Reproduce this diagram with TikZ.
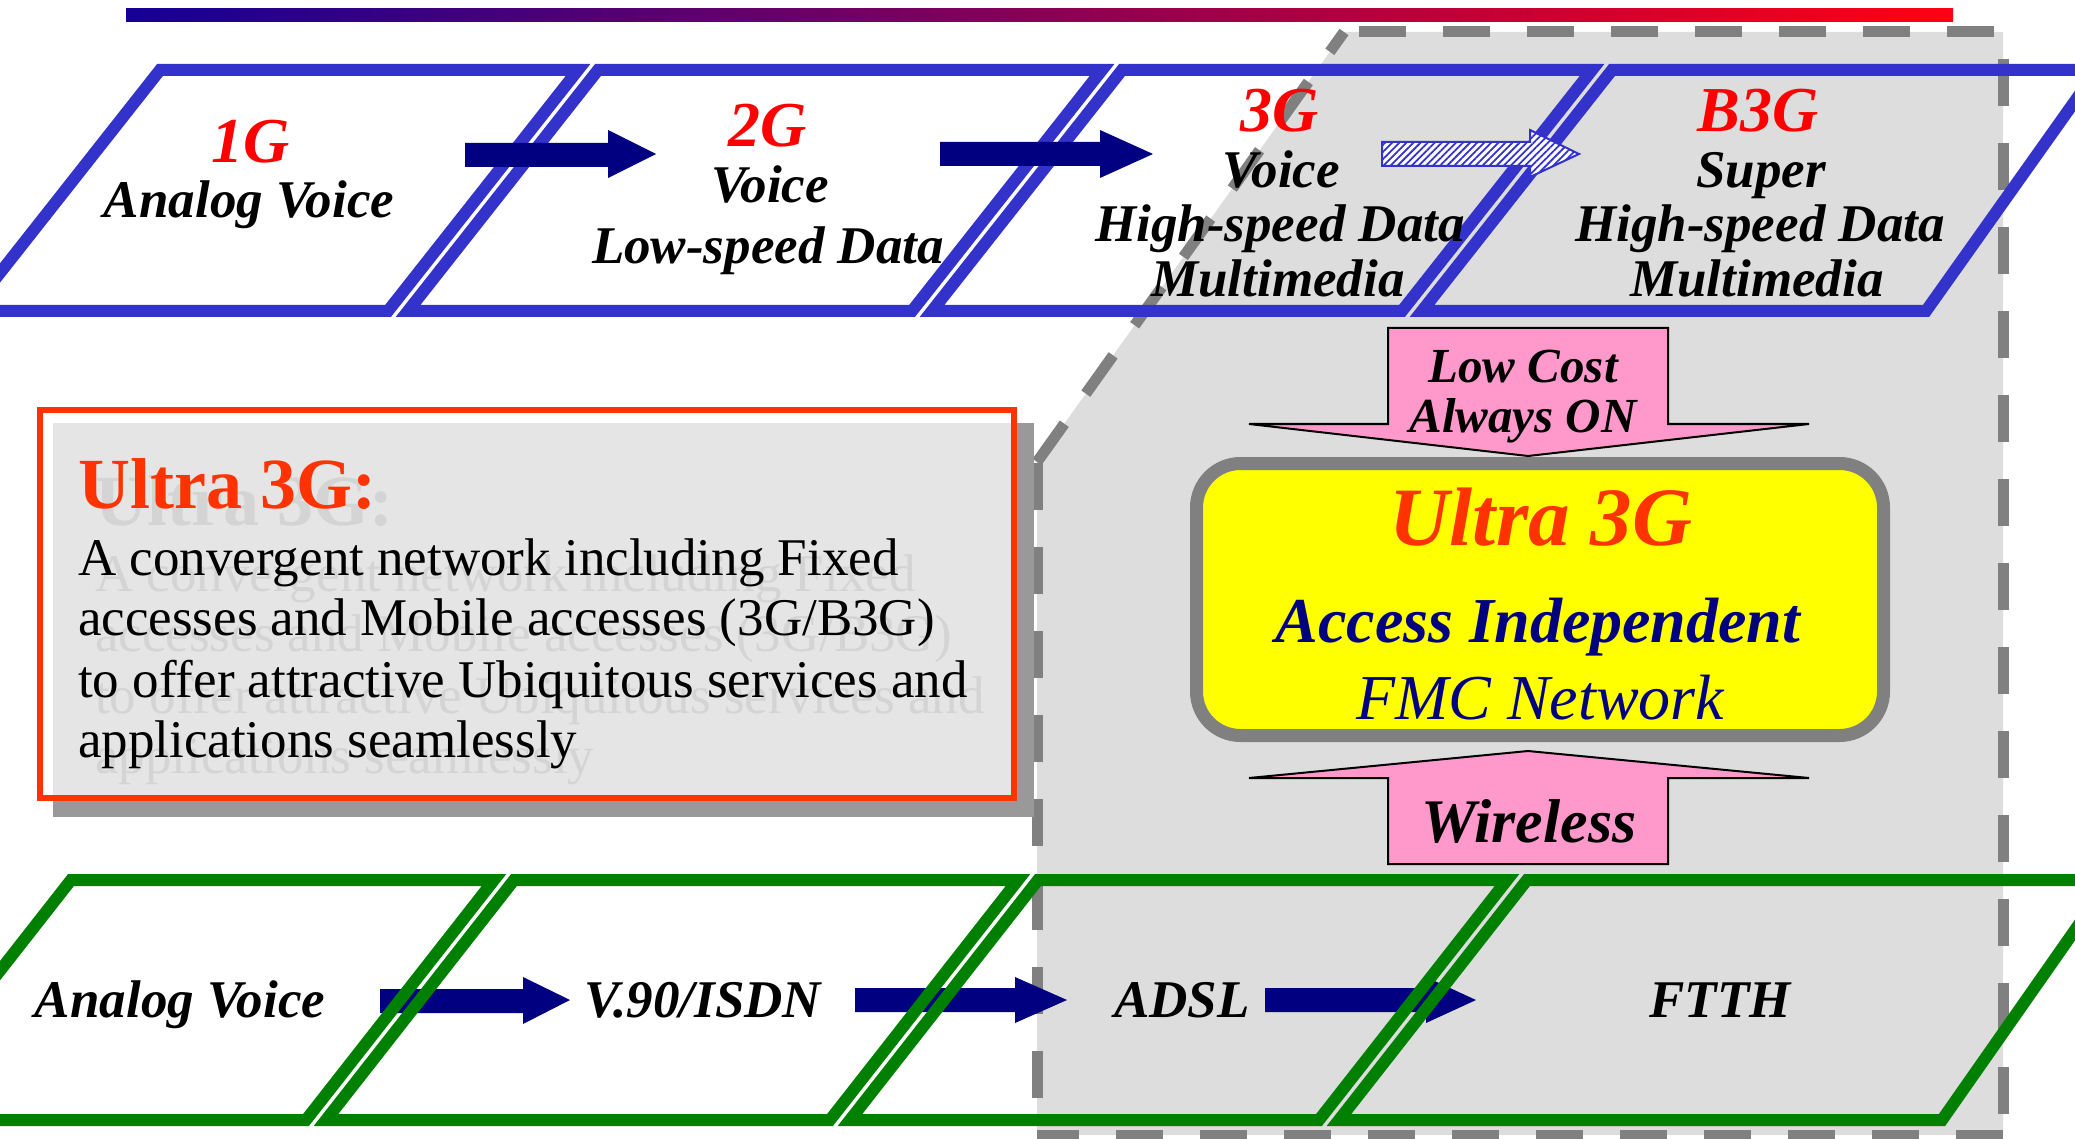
\documentclass[tikz,border=0pt]{standalone}
\usepackage{fontspec}
\setmainfont{Liberation Serif}
\usetikzlibrary{patterns.meta}
\definecolor{topblue}{RGB}{51,51,204}
\definecolor{navyc}{RGB}{0,0,128}
\definecolor{fmgreen}{RGB}{0,128,0}
\definecolor{dashgray}{RGB}{128,128,128}
\definecolor{regiongray}{RGB}{221,221,221}
\definecolor{boxgray}{RGB}{229,229,229}
\definecolor{shadowgray}{RGB}{153,153,153}
\definecolor{redorange}{RGB}{255,51,0}
\definecolor{gred}{RGB}{255,0,0}
\definecolor{pinkc}{RGB}{255,153,204}
\definecolor{yellowc}{RGB}{255,255,0}
\definecolor{ghostc}{RGB}{212,212,212}
\definecolor{gradL}{RGB}{20,0,150}
\definecolor{gradR}{RGB}{255,0,20}
\begin{document}
\begin{tikzpicture}[x=1pt,y=-1pt,line join=miter,
  blueframe/.style={draw=topblue,line width=12pt},
  greenframe/.style={draw=fmgreen,line width=12pt},
  navyarrow/.style={fill=navyc},
  gdash/.style={draw=dashgray,line width=11pt,dash pattern=on 47pt off 37pt},
  lbl/.style={anchor=base,inner sep=0pt,font=\fontsize{53}{60}\selectfont\bfseries\itshape},
  glbl/.style={anchor=base,inner sep=0pt,text=gred,font=\fontsize{64}{70}\selectfont\bfseries\itshape},
  bodytxt/.style={anchor=base west,inner sep=0pt,font=\fontsize{53}{60}\selectfont},
  titletxt/.style={anchor=base west,inner sep=0pt,font=\fontsize{72}{80}\selectfont\bfseries},
  pinkarrow/.style={draw=black,line width=2pt,fill=pinkc},
  pinktxt/.style={anchor=base,inner sep=0pt,font=\fontsize{49}{55}\selectfont\bfseries\itshape}
]
\useasboundingbox (0,0) rectangle (2075,1139);
\clip (0,0) rectangle (2075,1139);

% gradient bar
\shade[left color=gradL,right color=gradR] (126,9) rectangle (1953,22);

% gray dashed region
\fill[regiongray] (1344,32) -- (2003,32) -- (2003,1135) -- (1037,1135) -- (1037,462) -- cycle;
\draw[gdash,dash phase=69pt] (1344,32) -- (2003,32);
\draw[gdash,dash phase=57pt] (2003,32) -- (2003,1135);
\draw[gdash] (2003,1135) -- (1037,1135);
\draw[gdash,dash phase=47pt] (1037,1135) -- (1037,462);
\draw[gdash] (1037,462) -- (1344,32);

% left text box
\fill[shadowgray] (53,423) rectangle (1034,817);
\fill[boxgray] (53,423) rectangle (1017,801);
\node[titletxt,text=ghostc] (ttlg) at (95,525) {Ultra 3G:};
\node[bodytxt,text=ghostc] (b1g) at (95,591) {A convergent network including Fixed};
\node[bodytxt,text=ghostc] (b2g) at (95,651) {accesses and Mobile accesses (3G/B3G)};
\node[bodytxt,text=ghostc] (b3g) at (95,713) {to offer attractive Ubiquitous services and};
\node[bodytxt,text=ghostc] (b4g) at (95,773) {applications seamlessly};
\node[titletxt,text=redorange] (ttl) at (78,508) {Ultra 3G:};
\node[bodytxt] (b1) at (78,575) {A convergent network including Fixed};
\node[bodytxt] (b2) at (78,635) {accesses and Mobile accesses (3G/B3G)};
\node[bodytxt] (b3) at (78,697) {to offer attractive Ubiquitous services and};
\node[bodytxt] (b4) at (78,757) {applications seamlessly};
\draw[redorange,line width=6pt] (40,410) rectangle (1014,798);

% pink arrows
\draw[pinkarrow] (1388,328) -- (1668,328) -- (1668,424) -- (1809,424) -- (1528,456) -- (1249,424) -- (1388,424) -- cycle;
\draw[pinkarrow] (1388,864) -- (1668,864) -- (1668,778) -- (1809,778) -- (1528,751) -- (1249,778) -- (1388,778) -- cycle;
\node[pinktxt] (lc) at (1523,383) {Low Cost};
\node[pinktxt] (ao) at (1523,432) {Always ON};
\node[pinktxt,font=\fontsize{62}{66}\selectfont\bfseries\itshape] (wl) at (1529,842) {Wireless};

% yellow box
\draw[draw=dashgray,line width=13pt,fill=yellowc,rounded corners=44pt] (1196.5,463.5) rectangle (1883.5,735.5);
\node[anchor=base,inner sep=0pt,text=redorange,font=\fontsize{83}{90}\selectfont\bfseries\itshape] (u3) at (1541,545) {Ultra 3G};
\node[anchor=base,inner sep=0pt,text=navyc,font=\fontsize{64}{70}\selectfont\bfseries\itshape] (ai) at (1538,642) {Access Independent};
\node[anchor=base,inner sep=0pt,text=navyc,font=\fontsize{64}{70}\selectfont\itshape] (fmc) at (1540,719) {FMC Network};

% blue frames
\draw[blueframe] (160,70) -- (578,70) -- (388,311) -- (-30,311) -- cycle;
\draw[blueframe] (598,70) -- (1102,70) -- (912,311) -- (408,311) -- cycle;
\draw[blueframe] (1122,70) -- (1592,70) -- (1402,311) -- (932,311) -- cycle;
\draw[blueframe] (1612,70) -- (2097,70) -- (1926,311) -- (1422,311) -- cycle;

% top arrows
\fill[navyarrow] (465,143) -- (608,143) -- (608,130) -- (656,154) -- (608,178) -- (608,167) -- (465,167) -- cycle;
\fill[navyarrow] (940,142) -- (1100,142) -- (1100,130) -- (1153,154) -- (1100,178) -- (1100,166) -- (940,166) -- cycle;
\draw[draw=topblue,line width=2pt,preaction={fill=white},pattern={Lines[angle=45,distance=5pt,line width=1.8pt]},pattern color=topblue]
  (1382,142) -- (1530,142) -- (1530,130) -- (1579,154) -- (1530,177) -- (1530,166) -- (1382,166) -- cycle;

% bottom arrows (under green frames)
\fill[navyarrow] (380,989) -- (523,989) -- (523,977) -- (570,1000) -- (523,1024) -- (523,1013) -- (380,1013) -- cycle;
\fill[navyarrow] (855,988) -- (1015,988) -- (1015,977) -- (1067,1000) -- (1015,1023) -- (1015,1012) -- (855,1012) -- cycle;
\fill[navyarrow] (1265,988) -- (1426,988) -- (1426,977) -- (1476,1000) -- (1426,1023) -- (1426,1012) -- (1265,1012) -- cycle;

% green frames
\draw[greenframe] (71,880) -- (494,880) -- (306,1120) -- (-117,1120) -- cycle;
\draw[greenframe] (514,880) -- (1018,880) -- (830,1120) -- (326,1120) -- cycle;
\draw[greenframe] (1038,880) -- (1507,880) -- (1319,1120) -- (850,1120) -- cycle;
\draw[greenframe] (1527,880) -- (2110,880) -- (1942,1120) -- (1339,1120) -- cycle;

% top row texts
\node[glbl] (t1g) at (251,163) {1G};
\node[lbl] (t1a) at (249,218) {Analog Voice};
\node[glbl] (t2g) at (768,147) {2G};
\node[lbl] (t2a) at (770,203) {Voice};
\node[lbl] (t2b) at (768,264) {Low-speed Data};
\node[glbl] (t3g) at (1280,132) {3G};
\node[lbl] (t3a) at (1281,188) {Voice};
\node[lbl] (t3b) at (1280,242) {High-speed Data};
\node[lbl] (t3c) at (1278,297) {Multimedia};
\node[glbl] (t4g) at (1758,132) {B3G};
\node[lbl] (t4a) at (1761,188) {Super};
\node[lbl] (t4b) at (1760,242) {High-speed Data};
\node[lbl] (t4c) at (1757,297) {Multimedia};

% bottom row texts
\node[lbl] (f1) at (180,1017) {Analog Voice};
\node[lbl] (f2) at (703,1017) {V.90/ISDN};
\node[lbl] (f3) at (1182,1017) {ADSL};
\node[lbl] (f4) at (1720,1017) {FTTH};
\end{tikzpicture}
\end{document}
